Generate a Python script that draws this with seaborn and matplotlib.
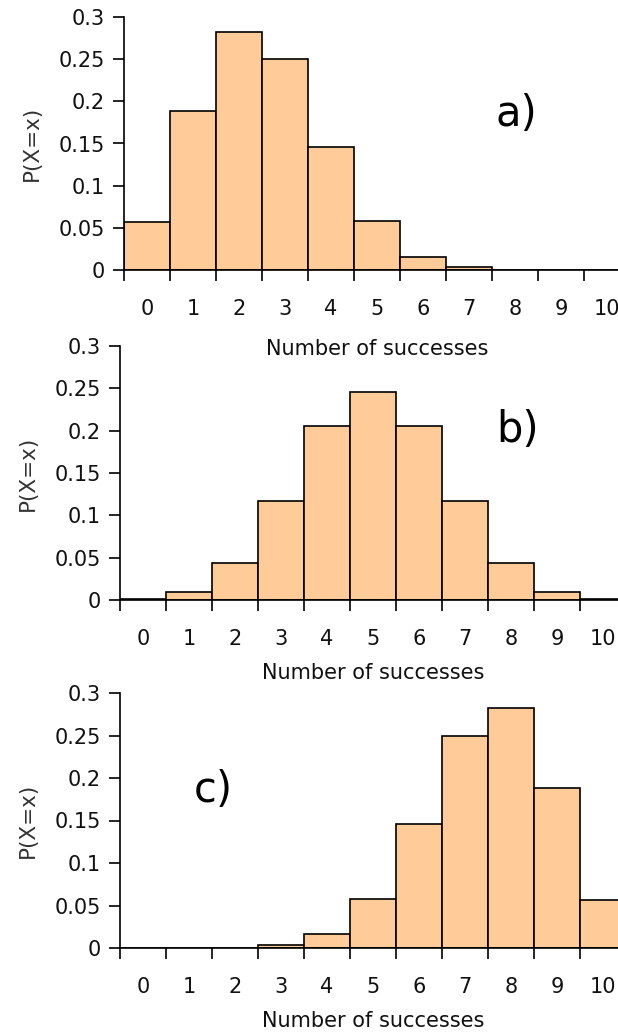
import numpy as np
import pandas as pd
import matplotlib
matplotlib.use("Agg")
import matplotlib.pyplot as plt
import seaborn as sns
from matplotlib.ticker import FixedLocator

sns.set_theme(style="white")
plt.rcParams['font.family'] = ['DejaVu Sans']

successes = [0, 1, 2, 3, 4, 5, 6, 7, 8, 9, 10]
prob_a = [0.057, 0.188, 0.282, 0.250, 0.146, 0.058, 0.016, 0.003, 0.0004, 0.0, 0.0]
prob_b = [0.001, 0.010, 0.044, 0.117, 0.205, 0.246, 0.205, 0.117, 0.044, 0.010, 0.001]
prob_c = [0.0, 0.0, 0.0004, 0.003, 0.016, 0.058, 0.146, 0.250, 0.282, 0.188, 0.057]
panel_labels = ["a)", "b)", "c)"]
yticks = [0, 0.05, 0.1, 0.15, 0.2, 0.25, 0.3]
ytick_labels = ["0", "0.05", "0.1", "0.15", "0.2", "0.25", "0.3"]

W, H = 618, 1034
fig = plt.figure(figsize=(W / 100, H / 100), dpi=100)

# axes rectangles in pixels: left, top(0.3), zero-line y
rects = [(124, 17, 270), (120, 346, 600), (120, 693, 948)]
label_pos = [(0.775, 0.617), (0.785, 0.67), (0.184, 0.62)]
xlabel_pads = [14, 10, 10]
bar_span = 506

for probs, lab, (lx, ty, by), (tx, tyy), lp in zip([prob_a, prob_b, prob_c], panel_labels, rects,
                                                    label_pos, xlabel_pads):
    ax = fig.add_axes([lx / W, 1 - by / H, bar_span / W, (by - ty) / H])
    df = pd.DataFrame({"x": successes, "p": probs})
    sns.barplot(data=df, x="x", y="p", color="#FFCC99", saturation=1,
                width=1.0, edgecolor="black", linewidth=1.2, ax=ax)
    ax.set_xlim(-0.5, 10.5)
    ax.set_ylim(0, 0.3)
    ax.set_yticks(yticks)
    ax.set_yticklabels(ytick_labels)
    ax.xaxis.set_minor_locator(FixedLocator(np.arange(-0.5, 11, 1.0)))
    ax.tick_params(axis="x", which="major", length=0, pad=21, labelsize=15, colors="#111111")
    ax.tick_params(axis="x", which="minor", length=8, width=1.2, direction="out", bottom=True, color="black")
    ax.tick_params(axis="y", which="major", length=8, width=1.2, direction="out", left=True,
                   pad=6, labelsize=15, colors="#111111")
    ax.tick_params(axis="y", which="major", color="black")
    for s in ["top", "right"]:
        ax.spines[s].set_visible(False)
    for s in ["left", "bottom"]:
        ax.spines[s].set_color("black")
        ax.spines[s].set_linewidth(1.2)
    ax.patch.set_alpha(0.0)
    ax.set_xlabel("Number of successes", fontsize=15, color="#111111", labelpad=lp)
    ax.set_ylabel("P(X=x)", fontsize=15.5, color="#333333", labelpad=12)
    ax.text(tx, tyy, lab, transform=ax.transAxes, fontsize=30, ha="center", va="center", color="black")

fig.savefig("out.png", dpi=100)
